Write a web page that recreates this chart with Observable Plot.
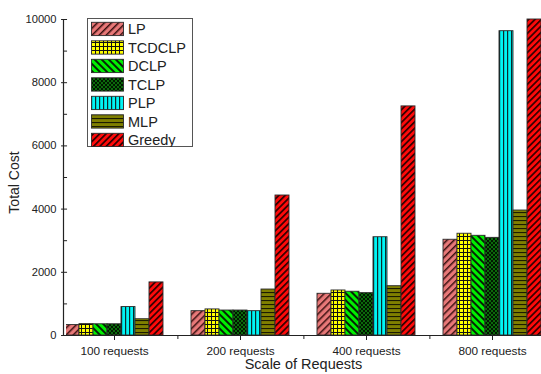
<!DOCTYPE html>
<html>
<head>
<meta charset="utf-8">
<script src="https://cdn.jsdelivr.net/npm/d3@7"></script>
<script src="https://cdn.jsdelivr.net/npm/@observablehq/plot@0.6"></script>
<style>
  html, body { margin: 0; padding: 0; background: white; }
  #wrap { position: relative; width: 541px; height: 374px; overflow: hidden; font-family: "Liberation Sans", Arial, sans-serif; }
  #legend { position: absolute; left: 87px; top: 18px; }
</style>
</head>
<body>
<svg width="0" height="0" style="position:absolute">
  <defs>
    <pattern id="p-LP" width="5" height="5" patternUnits="userSpaceOnUse" patternTransform="rotate(45)">
      <rect width="5" height="5" fill="#e87878"/>
      <rect width="1.5" height="5" fill="#3a1010"/>
    </pattern>
    <pattern id="p-TCDCLP" width="4" height="4" patternUnits="userSpaceOnUse">
      <rect width="4" height="4" fill="#ffff00"/>
      <rect width="1" height="4" fill="#111"/>
      <rect width="4" height="1" fill="#111"/>
    </pattern>
    <pattern id="p-DCLP" width="5" height="5" patternUnits="userSpaceOnUse" patternTransform="rotate(-45)">
      <rect width="5" height="5" fill="#00f000"/>
      <rect width="2" height="5" fill="#062006"/>
    </pattern>
    <pattern id="p-TCLP" width="4" height="4" patternUnits="userSpaceOnUse">
      <rect width="4" height="4" fill="#0b6a0b"/>
      <rect width="2" height="2" fill="#001800"/>
      <rect x="2" y="2" width="2" height="2" fill="#001800"/>
    </pattern>
    <pattern id="p-PLP" width="4" height="4" patternUnits="userSpaceOnUse">
      <rect width="4" height="4" fill="#00f4f4"/>
      <rect width="1.2" height="4" fill="#0a2a2a"/>
    </pattern>
    <pattern id="p-MLP" width="4" height="4" patternUnits="userSpaceOnUse">
      <rect width="4" height="4" fill="#7f7f00"/>
      <rect width="4" height="1.1" fill="#1c1c00"/>
    </pattern>
    <pattern id="p-Greedy" width="4.5" height="4.5" patternUnits="userSpaceOnUse" patternTransform="rotate(45)">
      <rect width="4.5" height="4.5" fill="#ff0a0a"/>
      <rect width="1.7" height="4.5" fill="#300000"/>
    </pattern>
  </defs>
</svg>
<div id="wrap"></div>
<script>
const categories = ["100 requests", "200 requests", "400 requests", "800 requests"];
const series = ["LP", "TCDCLP", "DCLP", "TCLP", "PLP", "MLP", "Greedy"];
const LP     = [330, 770, 1320, 3030];
const TCDCLP = [360, 825, 1425, 3220];
const DCLP   = [355, 790, 1385, 3155];
const TCLP   = [355, 790, 1340, 3090];
const PLP    = [900, 770, 3110, 9630];
const MLP    = [515, 1455, 1560, 3955];
const Greedy = [1680, 4430, 7250, 10000];
const yMajor = [0, 2000, 4000, 6000, 8000, 10000];
const yMinor = [1000, 3000, 5000, 7000, 9000];

const valuesBySeries = {LP, TCDCLP, DCLP, TCLP, PLP, MLP, Greedy};
const table = [];
categories.forEach((c, i) => series.forEach(s => table.push({cat: c, series: s, value: valuesBySeries[s][i]})));

const W = 541, H = 374, ML = 66, MR = 0, MT = 19, MB = 39;
const padIn = 0.189, padOut = -0.032;
const step = (W - ML - MR) / (categories.length - padIn + 2 * padOut);
const axisShift = -step * padOut; // first facet starts left of the frame
const ink = "#222";

const chart = Plot.plot({
  width: W, height: H,
  marginLeft: ML, marginRight: MR, marginTop: MT, marginBottom: MB,
  style: {fontFamily: "'Liberation Sans', Arial, sans-serif", color: ink, background: "white", overflow: "hidden"},
  fx: {domain: categories, paddingInner: padIn, paddingOuter: padOut, align: 0.5, label: null, axis: null},
  x: {domain: series, padding: 0, axis: null},
  y: {domain: [0, 10000], axis: null},
  color: {domain: series, range: series.map(s => `url(#p-${s})`)},
  marks: [
    Plot.barY(table, {fx: "cat", x: "series", y: "value", fill: "series", stroke: "#2a2a2a", strokeWidth: 0.9}),
    Plot.axisFx({anchor: "bottom", tickSize: 5, tickPadding: 6.5, fontSize: 11.8, label: null, stroke: ink, fill: ink}),
    Plot.axisFx({anchor: "bottom", tickSize: 4, fill: "none", stroke: ink, label: null, dx: step / 2}),
    Plot.axisY({ticks: yMajor, tickSize: 6, tickPadding: 5, fontSize: 11.2, label: null, stroke: ink, fill: ink, tickFormat: d => String(d), dx: axisShift}),
    Plot.axisY({ticks: yMinor, tickSize: 4, fill: "none", stroke: ink, label: null, dx: axisShift}),
    Plot.frame({facet: "super", anchor: "left", stroke: ink, strokeWidth: 1.2}),
    Plot.frame({facet: "super", anchor: "bottom", stroke: ink, strokeWidth: 1.2}),
    Plot.text(["Total Cost"], {facet: "super", text: d => d, frameAnchor: "left", textAnchor: "middle", rotate: -90, dx: -48.5, dy: 5, fontSize: 14, fill: ink}),
    Plot.text(["Scale of Requests"], {facet: "super", text: d => d, frameAnchor: "bottom", dy: 33, fontSize: 14.5, fill: ink})
  ]
});
const wrap = document.getElementById("wrap");
wrap.appendChild(chart);

// clip bars to the plot frame (left of the y axis)
const svg = chart.tagName.toLowerCase() === "svg" ? chart : chart.querySelector("svg");
const NS = "http://www.w3.org/2000/svg";
let defs = svg.querySelector("defs");
if (!defs) { defs = document.createElementNS(NS, "defs"); svg.insertBefore(defs, svg.firstChild); }
svg.querySelectorAll('g[aria-label="bar"]').forEach((g, i) => {
  const m = g.getCTM();
  if (!m) return;
  const cp = document.createElementNS(NS, "clipPath");
  cp.setAttribute("id", "barclip" + i);
  const r = document.createElementNS(NS, "rect");
  r.setAttribute("x", (ML - m.e) / m.a);
  r.setAttribute("y", (0 - m.f) / m.d);
  r.setAttribute("width", (W - ML) / m.a);
  r.setAttribute("height", H / m.d);
  cp.appendChild(r);
  defs.appendChild(cp);
  g.setAttribute("clip-path", `url(#barclip${i})`);
});

// legend
const rowH = 18.5, sw = 32, sh = 13.3;
const lw = 106, lh = 129;
const lg = d3.create("svg").attr("id", "legend").attr("width", lw).attr("height", lh);
lg.append("rect").attr("x", 0.5).attr("y", 0.5).attr("width", lw - 1).attr("height", lh - 1)
  .attr("fill", "white").attr("stroke", "#555").attr("stroke-width", 1);
series.forEach((s, i) => {
  const y0 = 4.3 + i * rowH;
  lg.append("rect").attr("x", 4.5).attr("y", y0).attr("width", sw).attr("height", sh)
    .attr("fill", `url(#p-${s})`).attr("stroke", "#2a2a2a").attr("stroke-width", 0.9);
  lg.append("text").attr("x", 41).attr("y", y0 + sh - 1.3).text(s)
    .attr("font-size", 14.5).attr("fill", ink).attr("font-family", "'Liberation Sans', Arial, sans-serif");
});
wrap.appendChild(lg.node());
</script>
</body>
</html>
